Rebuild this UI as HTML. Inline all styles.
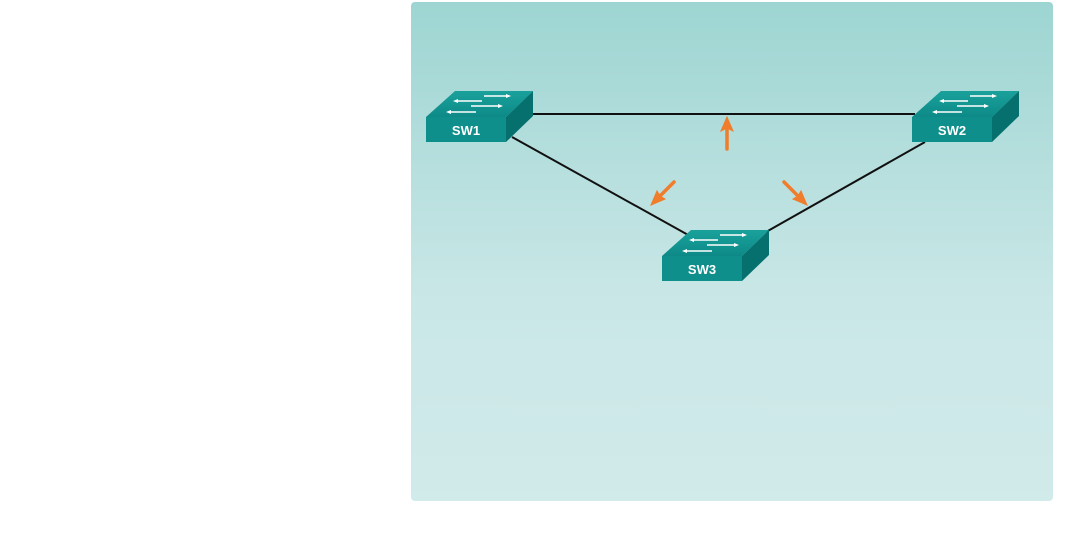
<!DOCTYPE html>
<html><head><style>
html,body{margin:0;padding:0;background:#fff;width:1083px;height:556px;overflow:hidden}
</style></head><body>
<svg width="1083" height="556" xmlns="http://www.w3.org/2000/svg" style="position:absolute;left:0;top:0">
<defs>
<linearGradient id="bg" x1="0" y1="0" x2="0" y2="1">
<stop offset="0" stop-color="#9dd5d2"/><stop offset="0.6" stop-color="#cae7e7"/><stop offset="1" stop-color="#d1eaea"/>
</linearGradient>
<linearGradient id="top" x1="0" y1="0" x2="0" y2="1">
<stop offset="0" stop-color="#1aa19c"/><stop offset="1" stop-color="#0d8a87"/>
</linearGradient>
<g id="sw">
<polygon points="0,26 29,0 107,0 80,26" fill="url(#top)"/>
<polygon points="80,26 107,0 107,25 80,51" fill="#06706e"/>
<rect x="0" y="26" width="80" height="25" fill="#0e8f8b"/>
<g stroke="#fff" stroke-width="1.6" fill="#fff">
<line x1="58" y1="5" x2="80" y2="5"/><polygon points="80,3 85,5 80,7" stroke="none"/>
<line x1="32" y1="10" x2="56" y2="10"/><polygon points="32,8 27,10 32,12" stroke="none"/>
<line x1="45" y1="15" x2="72" y2="15"/><polygon points="72,13 77,15 72,17" stroke="none"/>
<line x1="25" y1="21" x2="50" y2="21"/><polygon points="25,19 20,21 25,23" stroke="none"/>
</g>
</g>
</defs>
<rect x="411" y="2" width="642" height="499" rx="4" fill="url(#bg)"/>
<g stroke="#111" stroke-width="2">
<line x1="530" y1="114" x2="915" y2="114"/>
<line x1="512" y1="137" x2="690" y2="236"/>
<line x1="925" y1="142" x2="766" y2="232"/>
</g>
<use href="#sw" x="426" y="91"/>
<use href="#sw" x="912" y="91"/>
<use href="#sw" x="662" y="230"/>
<g font-family="Liberation Sans, sans-serif" font-weight="bold" font-size="13" fill="#fff" text-anchor="middle">
<text x="466" y="135">SW1</text>
<text x="952" y="135">SW2</text>
<text x="702" y="274">SW3</text>
</g>
<g stroke="#ef7d2b" stroke-width="3.5" stroke-linecap="round" fill="#ef7d2b">
<line x1="727" y1="149" x2="727" y2="128"/>
<polygon points="727,117 721,131 727,128 733,131" stroke-width="1"/>
<line x1="674" y1="182" x2="660" y2="196"/>
<polygon points="651,205 657,191 660,196 665,199" stroke-width="1"/>
<line x1="784" y1="182" x2="798" y2="196"/>
<polygon points="807,205 793,199 798,196 801,191" stroke-width="1"/>
</g>
</svg>
</body></html>
